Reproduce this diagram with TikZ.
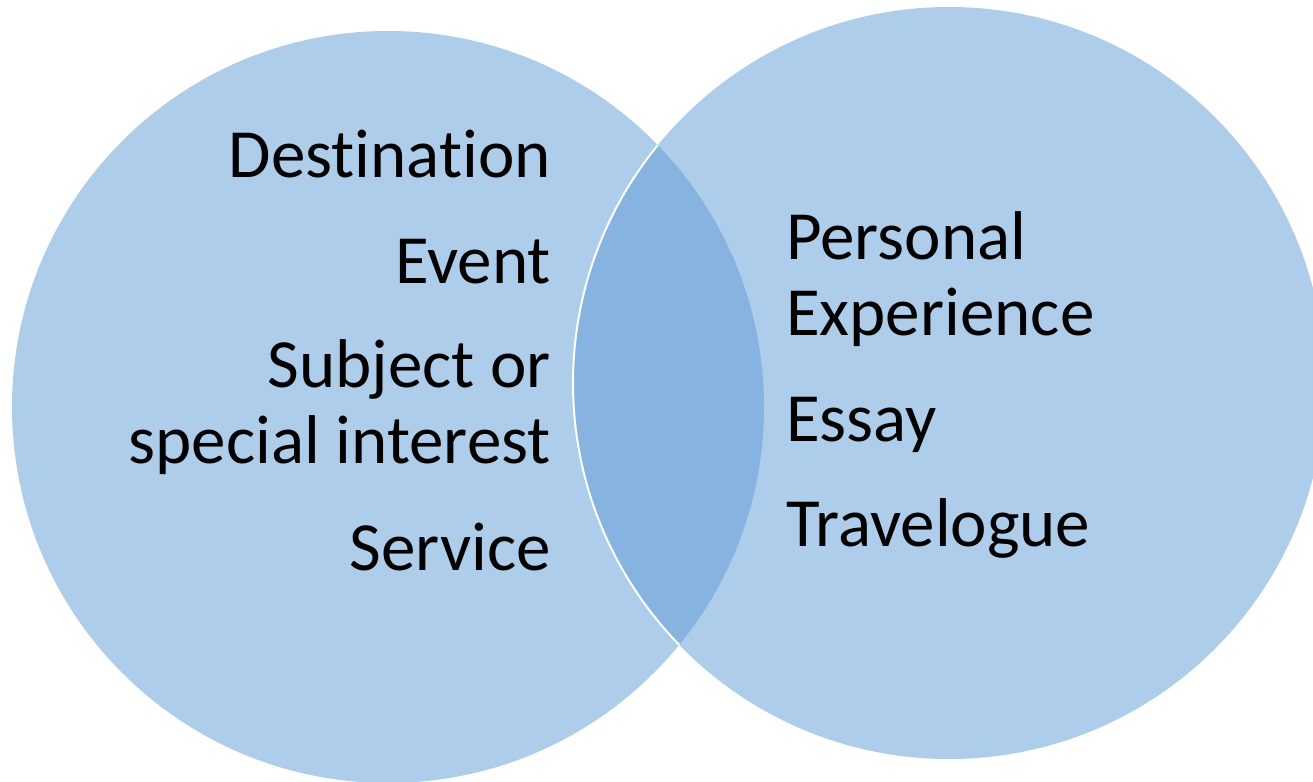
\documentclass[tikz,border=0pt]{standalone}
\usepackage{fontspec}
\setmainfont[Ligatures={NoCommon,NoRequired,NoContextual}]{Carlito}
\definecolor{lightblue}{HTML}{AECDEA}
\definecolor{lensblue}{HTML}{86B3DF}
\begin{document}
\begin{tikzpicture}[x=1pt,y=-1pt,
  lbl/.style={font=\fontsize{69}{83}\selectfont, inner sep=0pt, text=black}]
\useasboundingbox (0,0) rectangle (1313,781);
\clip (0,0) rectangle (1313,781);
% circles
\fill[lightblue] (388,407) circle[radius=376pt];
\fill[lightblue] (949,383) circle[radius=376pt];
\begin{scope}
  \clip (388,407) circle[radius=376pt];
  \fill[lensblue] (949,383) circle[radius=376pt];
  \draw[white, line width=2pt] (949,383) circle[radius=376pt];
\end{scope}
% left texts
\node[lbl, anchor=base east] (dest) at (551,177) {Destination};
\node[lbl, anchor=base east] (event) at (551,283) {Event};
\node[lbl, anchor=base east] (subj) at (551,387) {Subject or};
\node[lbl, anchor=base east] (spec) at (551,463) {special interest};
\node[lbl, anchor=base east] (serv) at (551,570) {Service};
% right texts
\node[lbl, anchor=base west] (pers) at (786,259) {Personal};
\node[lbl, anchor=base west] (exper) at (786,335) {Experience};
\node[lbl, anchor=base west] (essay) at (786,441) {Essay};
\node[lbl, anchor=base west] (trav) at (786,546) {Travelogue};
\end{tikzpicture}
\end{document}
